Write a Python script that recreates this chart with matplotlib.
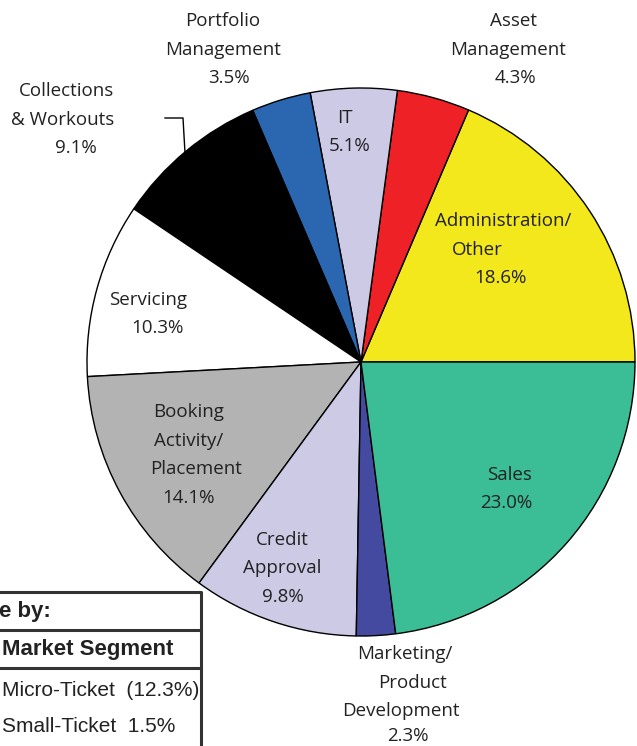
import matplotlib.pyplot as plt

# slice data, counterclockwise from 3 o'clock
segments = ["Administration/\nOther", "Asset\nManagement", "IT", "Portfolio\nManagement",
            "Collections\n& Workouts", "Servicing", "Booking\nActivity/\nPlacement",
            "Credit\nApproval", "Marketing/\nProduct\nDevelopment", "Sales"]
shares = [18.6, 4.3, 5.1, 3.5, 9.1, 10.3, 14.1, 9.8, 2.3, 23.0]
colors = ["#F2E81C", "#EE2226", "#CDCAE6", "#2B66B0", "#000000",
          "#FFFFFF", "#B3B3B3", "#CDCAE6", "#434AA0", "#3BBD95"]

table_title = "e by:"
table_header = "Market Segment"
table_rows = ["Micro-Ticket  (12.3%)", "Small-Ticket  1.5%"]

# label line positions in pixels (one x, y per text line incl. the percent line)
label_pos = [
    [(503, 221), (477, 250), (500, 278)],
    [(513, 21), (508, 50), (515, 78)],
    [(345, 118), (350, 146)],
    [(223, 21), (223, 50), (229, 78)],
    [(66, 91), (63, 120), (76, 148)],
    [(148, 300), (157, 328)],
    [(189, 412), (189, 441), (196, 469), (189, 498)],
    [(282, 540), (282, 568), (283, 597)],
    [(405, 654), (412, 683), (401, 711), (408, 736)],
    [(509, 475), (506, 503)],
]

W, H = 637, 746
fig = plt.figure(figsize=(W / 100, H / 100), dpi=100)
ax = fig.add_axes([0, 0, 1, 1])

ax.pie(shares, colors=colors, startangle=0, counterclock=False,
       center=(361, 362), radius=274,
       wedgeprops=dict(edgecolor="black", linewidth=1.0))
ax.set_xlim(0, W)
ax.set_ylim(H, 0)
ax.set_aspect("equal")
ax.axis("off")

lab_font = dict(family=["Open Sans", "DejaVu Sans"], fontsize=13.5, color="#222222",
                ha="center", va="center")
for name, val, pos in zip(segments, shares, label_pos):
    lines = name.split("\n") + [f"{val:.1f}%"]
    for txt, (x, y) in zip(lines, pos):
        ax.text(x, y, txt, **lab_font)

# leader line for Collections & Workouts
ax.plot([165, 183, 185], [118, 118, 153], color="black", lw=1)

# table box, bottom left (cut off by the figure edge)
tc = "#333333"
ax.plot([-5, 201, 201], [592, 592, H + 5], color=tc, lw=2.2, clip_on=False)
ax.plot([-5, 201], [630, 630], color=tc, lw=2.2)
ax.plot([-5, 201], [668, 668], color=tc, lw=2.2)

cond = ["DejaVu Sans Condensed", "Liberation Sans Narrow", "Liberation Sans"]
ax.text(-1, 611, table_title, family=cond, fontsize=16, fontweight="bold",
        color="#222222", ha="left", va="center")
ax.text(2, 650, table_header, family=cond, fontsize=16, fontweight="bold",
        color="#222222", ha="left", va="center")
for i, row in enumerate(table_rows):
    ax.text(2, 691 + 36 * i, row, family=cond, fontsize=15,
            color="#222222", ha="left", va="center")

fig.savefig("out.png", dpi=100)
